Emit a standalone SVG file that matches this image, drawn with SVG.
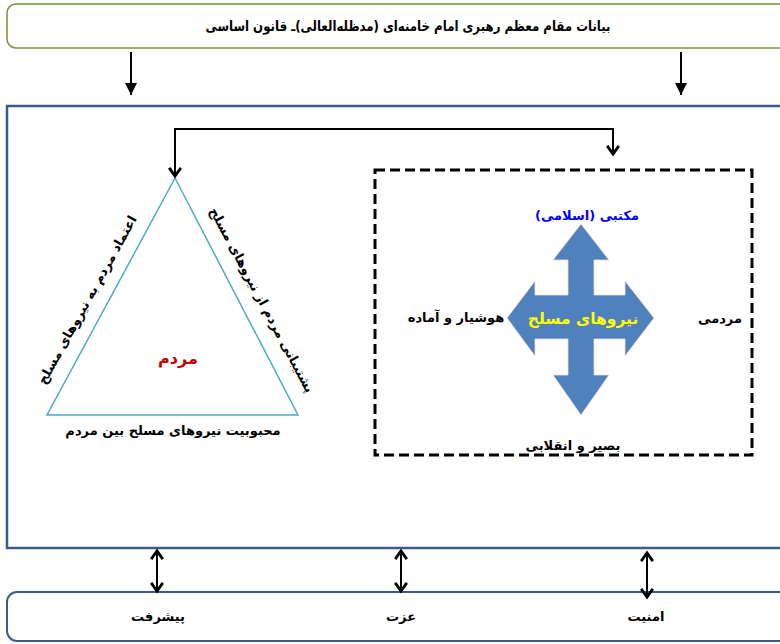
<svg xmlns="http://www.w3.org/2000/svg" width="780" height="644" viewBox="0 0 780 644">
<style>
.t{font-family:"DejaVu Sans","Noto Sans",sans-serif;font-weight:bold;direction:rtl;text-anchor:middle;fill:#000}
.ln{stroke:#000;stroke-width:2;fill:none}
</style>
<defs>
<marker id="tri" markerUnits="userSpaceOnUse" markerWidth="12" markerHeight="12" refX="10" refY="5" orient="auto" viewBox="0 0 10 10">
<path d="M0,0 L10,5 L0,10 Z" fill="#000"/>
</marker>
<marker id="chev" markerUnits="userSpaceOnUse" markerWidth="14" markerHeight="14" refX="9" refY="6" orient="auto-start-reverse" viewBox="0 0 12 12">
<path d="M2,1 L9,6 L2,11" fill="none" stroke="#000" stroke-width="2.4"/>
</marker>
</defs>
<rect width="780" height="644" fill="#fff"/>

<g id="top">
<rect x="7" y="4" width="790" height="44" rx="9" fill="#fff" stroke="#77933c" stroke-width="1.5"/>
<text class="t" x="408" y="31" font-size="14" textLength="405" lengthAdjust="spacingAndGlyphs">بیانات مقام معظم رهبری امام خامنه‌ای (مدظله‌العالی)ـ قانون اساسی</text>
</g>

<g id="main">
<rect x="7" y="106" width="790" height="442" fill="#fff" stroke="#385d8a" stroke-width="2.5"/>
</g>

<g id="triangle">
<polygon points="175,178 47,415 298,415" fill="#fff" stroke="#4bacc6" stroke-width="1.5"/>
<text class="t" x="178" y="364" font-size="16" style="fill:#c00000">مردم</text>
<text class="t" x="0" y="0" font-size="13" transform="translate(91,302) rotate(-61)">اعتماد مردم به نیروهای مسلح</text>
<text class="t" x="0" y="0" font-size="13" transform="translate(258,302) rotate(62)">پشتیبانی مردم از نیروهای مسلح</text>
<text class="t" x="173" y="435" font-size="13">محبوبیت نیروهای مسلح بین مردم</text>
</g>

<g id="forces">
<rect x="375" y="170" width="377" height="285" fill="none" stroke="#000" stroke-width="3" stroke-dasharray="10,5"/>
<polygon points="581,224 609,260 594,260 594,295 625,295 625,281 654,318 625,356 625,339 594,339 594,375 609,375 581,415 553,375 568,375 568,339 535,339 535,356 507,318 535,281 535,295 568,295 568,260 553,260" fill="#4f81bd" stroke="#f2dcdb" stroke-width="0.8"/>
<text class="t" x="583" y="324" font-size="15.5" style="fill:#ffff00">نیروهای مسلح</text>
<text class="t" x="587" y="220" font-size="13" style="fill:#0000ff">مکتبی (اسلامی)</text>
<text class="t" x="456" y="322" font-size="13">هوشیار و آماده</text>
<text class="t" x="720" y="323" font-size="13">مردمی</text>
<text class="t" x="573" y="450" font-size="13">بصیر و انقلابی</text>
</g>

<g id="bottom">
<rect x="7" y="592" width="790" height="49" rx="10" fill="#fff" stroke="#385d8a" stroke-width="2"/>
<text class="t" x="158" y="621" font-size="13">پیشرفت</text>
<text class="t" x="401" y="621" font-size="13">عزت</text>
<text class="t" x="646" y="621" font-size="13">امنیت</text>
</g>

<g id="connectors">
<line class="ln" x1="131" y1="52" x2="131" y2="95" marker-end="url(#tri)"/>
<line class="ln" x1="681" y1="52" x2="681" y2="95" marker-end="url(#tri)"/>
<path class="ln" d="M613,154 L613,129 L175,129 L175,176" stroke-width="2.5" marker-start="url(#chev)" marker-end="url(#chev)"/>
<line class="ln" x1="157" y1="551" x2="157" y2="591" marker-start="url(#chev)" marker-end="url(#chev)"/>
<line class="ln" x1="401" y1="551" x2="401" y2="591" marker-start="url(#chev)" marker-end="url(#chev)"/>
<line class="ln" x1="647" y1="553" x2="647" y2="597" marker-start="url(#chev)" marker-end="url(#chev)"/>
</g>
</svg>
